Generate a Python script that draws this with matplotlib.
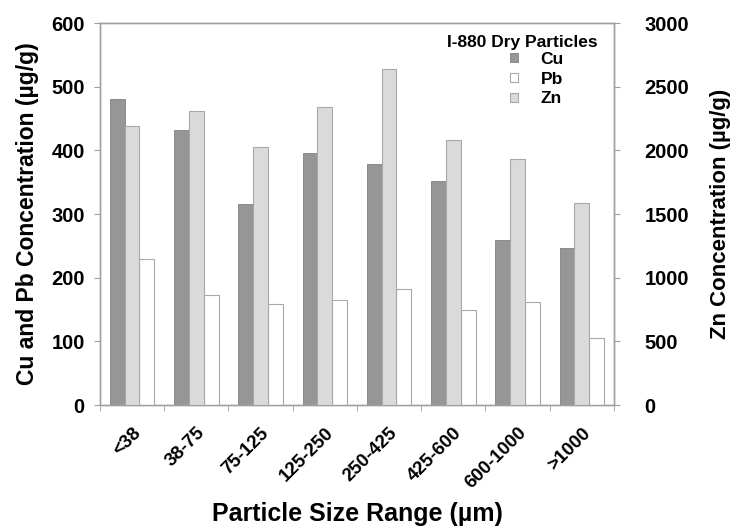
import matplotlib
matplotlib.use("Agg")
import matplotlib.pyplot as plt
import numpy as np

plt.rcParams['font.family'] = ['Liberation Sans', 'DejaVu Sans']
plt.rcParams['font.weight'] = 'bold'

tamanos = ["<38", "38-75", "75-125", "125-250", "250-425", "425-600", "600-1000", ">1000"]
cu = [481, 432, 315, 396, 379, 352, 259, 247]
pb = [229, 172, 159, 165, 182, 149, 162, 106]
zn = [2194, 2311, 2028, 2338, 2639, 2083, 1932, 1586]

gris_eje = '#a0a0a0'
fig = plt.figure(figsize=(7.34, 5.29), dpi=100)
ax = fig.add_axes([0.1362, 0.2344, 0.7003, 0.7221])
ax2 = ax.twinx()

x = np.arange(len(tamanos))
w = 0.23
ax.bar(x - w, cu, w, color='#969696', edgecolor='#808080', linewidth=0.6, label='Cu', zorder=3)
ax.bar(x + w, pb, w, color='white', edgecolor='#a8a8a8', linewidth=0.8, label='Pb', zorder=3)
ax2.bar(x, zn, w, color='#dadada', edgecolor='#a8a8a8', linewidth=0.8, label='Zn', zorder=3)

ax.set_xlim(-0.5, len(tamanos) - 0.5)
ax.set_ylim(0, 600)
ax2.set_ylim(0, 3000)
ax.set_yticks(range(0, 601, 100))
ax2.set_yticks(range(0, 3001, 500))

ax.set_xticks(x)
ax.set_xticklabels(tamanos, rotation=45, ha='right', rotation_mode='anchor', fontsize=13.5, fontweight='bold')
ax.set_xticks(np.arange(-0.5, len(tamanos), 1), minor=True)
ax.tick_params(axis='x', which='major', length=0, pad=14)
ax.tick_params(axis='x', which='minor', length=4, color=gris_eje)
ax.tick_params(axis='y', length=4, color=gris_eje, labelsize=14.5, pad=7)
ax2.tick_params(axis='y', length=4, color=gris_eje, labelsize=14.5, pad=18)

for a in (ax, ax2):
    for s in a.spines.values():
        s.set_color(gris_eje)
        s.set_linewidth(1.0)

ax.set_ylabel('Cu and Pb Concentration (\u00b5g/g)', fontsize=16.5, fontweight='bold', labelpad=9)
ax2.set_ylabel('Zn Concentration (\u00b5g/g)', fontsize=16, fontweight='bold', labelpad=15)
ax.set_xlabel('Particle Size Range (\u00b5m)', fontsize=18, fontweight='bold', labelpad=7)

# leyenda: titulo aparte y entradas alineadas como en el original
ax2.text(0.969, 0.950, 'I-880 Dry Particles', transform=ax2.transAxes, ha='right', va='center',
         fontsize=12.5, fontweight='bold', zorder=5)
h1, l1 = ax.get_legend_handles_labels()
h2, l2 = ax2.get_legend_handles_labels()
leg = ax2.legend(h1 + h2, l1 + l2, loc='upper left', bbox_to_anchor=(0.798, 0.925),
                 frameon=False, fontsize=12.5, handlelength=0.45, handleheight=0.45,
                 handletextpad=1.3, labelspacing=0.28, borderpad=0, borderaxespad=0)
for t in leg.get_texts():
    t.set_fontweight('bold')

plt.savefig("out.png", dpi=100)
